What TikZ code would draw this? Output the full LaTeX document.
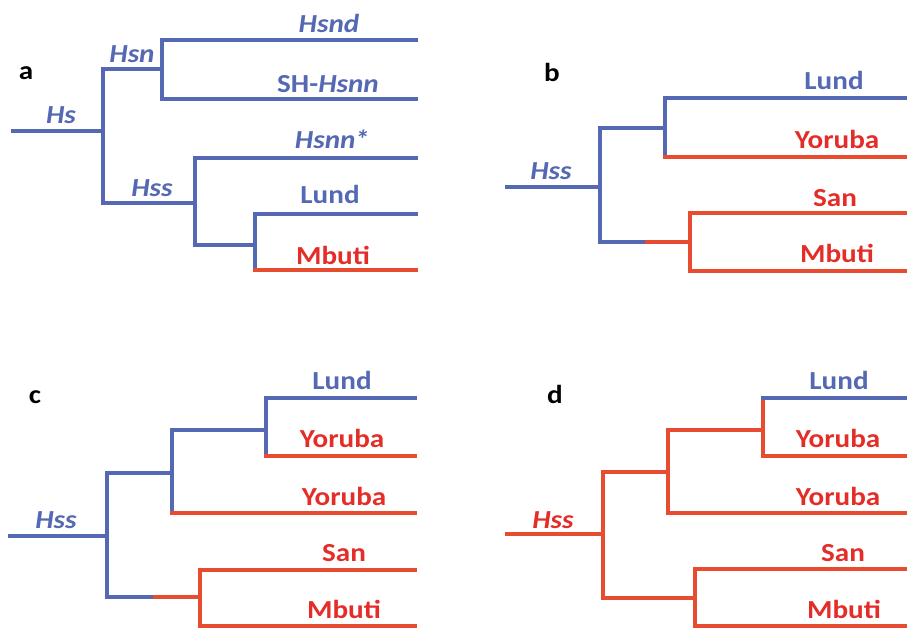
\documentclass[tikz,border=0pt]{standalone}
\usepackage{fontspec}
\setmainfont{Carlito}[FakeStretch=1.12]
\definecolor{lblue}{RGB}{84,104,180}
\definecolor{lred}{RGB}{232,76,48}
\definecolor{tred}{RGB}{228,45,40}
\begin{document}
\begin{tikzpicture}[x=1pt,y=-1pt,
  br/.style={line width=4.5pt,line cap=rect,line join=miter},
  bb/.style={br,draw=lblue},
  rr/.style={br,draw=lred},
  lab/.style={anchor=base,inner sep=0pt,font=\fontsize{26}{28}\selectfont\bfseries},
  blab/.style={lab,text=lblue},
  rlab/.style={lab,text=tred},
  ilab/.style={lab,text=lblue,font=\fontsize{26}{28}\selectfont\bfseries\itshape},
  irlab/.style={lab,text=tred,font=\fontsize{26}{28}\selectfont\bfseries\itshape},
  plab/.style={lab,text=black}]
\useasboundingbox (0,0) rectangle (907,628);
% ---------------- panel a
\coordinate (aR) at (13,131);
\coordinate (aHs) at (103,131);
\coordinate (aHsn) at (162,69);
\coordinate (aHsnd) at (416,40);
\coordinate (aSH) at (416,99);
\coordinate (aHss) at (195,203);
\coordinate (aHsnnS) at (416,158);
\coordinate (aIn) at (255,245);
\coordinate (aLund) at (416,214);
\coordinate (aMb) at (416,270);
\draw[bb] (aR) -- (aHs);
\draw[bb] (aHs) |- (aHsn);
\draw[bb] (aHsn) |- (aHsnd);
\draw[bb] (aHsn) |- (aSH);
\draw[bb] (aHs) |- (aHss);
\draw[bb] (aHss) |- (aHsnnS);
\draw[bb] (aHss) |- (aIn);
\draw[bb] (aIn) |- (aLund);
\draw[bb] (aIn) -- (aIn |- aMb);
\draw[rr] (aIn |- aMb) -- (aMb);
\node[plab] (la) at (26,80) {a};
\node[ilab] (tHs) at (61,124) {Hs};
\node[ilab] (tHsn) at (132,63) {Hsn};
\node[ilab] (tHss) at (152,197) {Hss};
\node[ilab] (tHsnd) at (329,33) {Hsnd};
\node[blab] (tSH) at (328,93) {SH-\textit{Hsnn}};
\node[ilab] (tHsnnS) at (332,149) {Hsnn\kern-1pt*};
\node[blab] (taLund) at (330,204) {Lund};
\node[rlab] (taMb) at (333,265) {Mbuti};
% ---------------- panel b
\coordinate (bR) at (507,187);
\coordinate (b1) at (600,187);
\coordinate (b2) at (665,128);
\coordinate (bLund) at (907,98);
\coordinate (bYor) at (907,157);
\coordinate (bMid) at (647,242);
\coordinate (b3) at (690,242);
\coordinate (bSan) at (907,213);
\coordinate (bMb) at (907,271);
\draw[bb] (bR) -- (b1);
\draw[bb] (b1) |- (b2);
\draw[bb] (b2) |- (bLund);
\draw[bb] (b2) -- (b2 |- bYor);
\draw[rr] (b2 |- bYor) -- (bYor);
\draw[bb] (b1) |- (bMid);
\draw[rr] (bMid) -- (b3);
\draw[rr] (b3) |- (bSan);
\draw[rr] (b3) |- (bMb);
\node[plab] (lb) at (552,82) {b};
\node[ilab] (tbHss) at (551,180) {Hss};
\node[blab] (tbLund) at (834,90) {Lund};
\node[rlab] (tbYor) at (837,149) {Yoruba};
\node[rlab] (tbSan) at (835,207) {San};
\node[rlab] (tbMb) at (837,263) {Mbuti};
% ---------------- panel c
\coordinate (cR) at (10,536);
\coordinate (c1) at (107,536);
\coordinate (c2) at (172,473);
\coordinate (c3) at (266,430);
\coordinate (cLund) at (415,398);
\coordinate (cYor) at (415,456);
\coordinate (cYorb) at (415,513);
\coordinate (cMid) at (155,597);
\coordinate (c4) at (200,597);
\coordinate (cSan) at (415,570);
\coordinate (cMb) at (415,626);
\draw[bb] (cR) -- (c1);
\draw[bb] (c1) |- (c2);
\draw[bb] (c2) |- (c3);
\draw[bb] (c3) |- (cLund);
\draw[bb] (c3) -- (c3 |- cYor);
\draw[rr] (c3 |- cYor) -- (cYor);
\draw[bb] (c2) -- (c2 |- cYorb);
\draw[rr] (c2 |- cYorb) -- (cYorb);
\draw[bb] (c1) |- (cMid);
\draw[rr] (cMid) -- (c4);
\draw[rr] (c4) |- (cSan);
\draw[rr] (c4) |- (cMb);
\node[plab] (lc) at (35,403) {c};
\node[ilab] (tcHss) at (56,528) {Hss};
\node[blab] (tcLund) at (342,389) {Lund};
\node[rlab] (tcYor) at (342,447) {Yoruba};
\node[rlab] (tcYorb) at (344,505) {Yoruba};
\node[rlab] (tcSan) at (344,561) {San};
\node[rlab] (tcMb) at (344,618) {Mbuti};
% ---------------- panel d
\coordinate (dR) at (507,534);
\coordinate (d1) at (603,534);
\coordinate (d2) at (668,472);
\coordinate (d3) at (763,430);
\coordinate (dLund) at (907,398);
\coordinate (dYor) at (907,456);
\coordinate (dYorb) at (907,513);
\coordinate (d4) at (695,598);
\coordinate (dSan) at (907,569);
\coordinate (dMb) at (907,626);
\draw[rr] (dR) -- (d1);
\draw[rr] (d1) |- (d2);
\draw[rr] (d2) |- (d3);
\draw[rr] (d3) -- (d3 |- dLund);
\draw[bb] (d3 |- dLund) -- (dLund);
\draw[rr] (d3) |- (dYor);
\draw[rr] (d2) |- (dYorb);
\draw[rr] (d1) |- (d4);
\draw[rr] (d4) |- (dSan);
\draw[rr] (d4) |- (dMb);
\node[plab] (ld) at (555,403) {d};
\node[irlab] (tdHss) at (553,528) {Hss};
\node[blab] (tdLund) at (839,389) {Lund};
\node[rlab] (tdYor) at (838,447) {Yoruba};
\node[rlab] (tdYorb) at (838,505) {Yoruba};
\node[rlab] (tdSan) at (843,561) {San};
\node[rlab] (tdMb) at (844,618) {Mbuti};
\end{tikzpicture}
\end{document}
